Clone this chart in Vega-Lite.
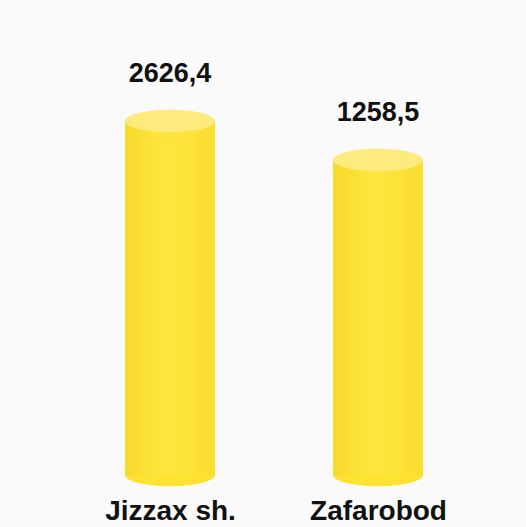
{
  "$schema": "https://vega.github.io/schema/vega-lite/v6.json",
  "width": 526,
  "height": 490,
  "autosize": {"type": "none"},
  "padding": {"left": 0, "right": 0, "top": 0, "bottom": 37},
  "background": "#fafafa",
  "config": {
    "view": {"stroke": null},
    "locale": {"number": {"decimal": ",", "thousands": "", "grouping": [3], "currency": ["", ""]}}
  },
  "data": {"values": [
    {"place": "Jizzax sh.", "value": 2626.4},
    {"place": "Zafarobod", "value": 1258.5}
  ]},
  "encoding": {
    "x": {
      "field": "place", "type": "nominal", "sort": null,
      "scale": {"type": "point", "range": [170, 378], "padding": 0},
      "axis": {
        "title": null, "domain": false, "ticks": false, "grid": false,
        "labelAngle": 0, "labelFont": "Liberation Sans", "labelFontWeight": "bold",
        "labelFontSize": 28, "labelColor": "#111111", "labelBaseline": "alphabetic",
        "labelPadding": 29
      }
    }
  },
  "layer": [
    {
      "mark": {"type": "point", "filled": true, "opacity": 1, "size": 8100,
        "shape": "M-1,0A1,0.25,0,1,0,1,0A1,0.25,0,1,0,-1,0Z",
        "color": "#FDE232"},
      "encoding": {
        "y": {"datum": -9790, "type": "quantitative",
          "scale": {"domain": [-10316, 6870.4], "nice": false, "zero": false}, "axis": null}
      }
    },
    {
      "mark": {"type": "bar", "width": 90,
        "color": {"gradient": "linear", "x1": 0, "x2": 1, "y1": 0, "y2": 0,
          "stops": [
            {"offset": 0, "color": "#F8D92C"},
            {"offset": 0.45, "color": "#FFE63E"},
            {"offset": 1, "color": "#FADD30"}
          ]}},
      "encoding": {
        "y": {"field": "value", "type": "quantitative",
          "scale": {"domain": [-10316, 6870.4], "nice": false, "zero": false}, "axis": null},
        "y2": {"datum": -9790}
      }
    },
    {
      "mark": {"type": "point", "filled": true, "opacity": 1, "size": 8100,
        "shape": "M-1,0A1,0.25,0,1,0,1,0A1,0.25,0,1,0,-1,0Z",
        "color": "#FEEB7E"},
      "encoding": {
        "y": {"field": "value", "type": "quantitative",
          "scale": {"domain": [-10316, 6870.4], "nice": false, "zero": false}, "axis": null}
      }
    },
    {
      "mark": {"type": "text", "font": "Liberation Sans", "fontWeight": "bold",
        "fontSize": 27, "color": "#111111", "baseline": "middle", "dy": -47},
      "encoding": {
        "y": {"field": "value", "type": "quantitative",
          "scale": {"domain": [-10316, 6870.4], "nice": false, "zero": false}, "axis": null},
        "text": {"field": "value", "type": "quantitative", "format": ".1f"}
      }
    }
  ]
}
